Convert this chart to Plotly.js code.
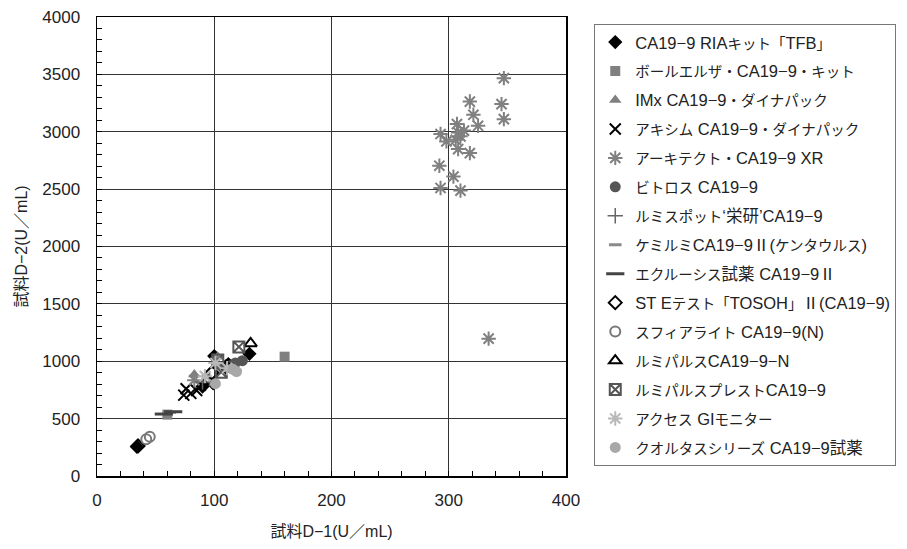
<!DOCTYPE html>
<html>
<head>
<meta charset="utf-8">
<script src="https://cdn.plot.ly/plotly-3.0.1.min.js"></script>
<style>html,body{margin:0;padding:0;background:#fff;}#chart{width:907px;height:549px;}</style>
</head>
<body>
<div id="chart"></div>
<script>
// Series names (legend labels)
const seriesNames = [
  "CA19−9 RIAキット「TFB」",
  "ボールエルザ・CA19−9・キット",
  "IMx CA19−9・ダイナパック",
  "アキシム CA19−9・ダイナパック",
  "アーキテクト・CA19−9 XR",
  "ビトロス CA19−9",
  "ルミスポット‘栄研’CA19−9",
  "ケミルミCA19−9Ⅱ(ケンタウルス)",
  "エクルーシス試薬 CA19−9Ⅱ",
  "ST Eテスト「TOSOH」Ⅱ(CA19−9)",
  "スフィアライト CA19−9(N)",
  "ルミパルスCA19−9−N",
  "ルミパルスプレストCA19−9",
  "アクセス GIモニター",
  "クオルタスシリーズ CA19−9試薬"
];

// D-1 values (x) per series
const d1_ria = [34, 100, 112, 130, 90];
const d1_ballelsa = [60, 160];
const d1_imx = [83, 103];
const d1_axsym = [76, 80, 74, 88, 95, 85];
const d1_architect = [347, 345, 347, 318, 321, 325, 307, 293, 298, 308, 310, 313, 306, 308, 318, 292, 304, 293, 310, 334, 83];
const d1_vitros = [124, 118, 114];
const d1_lumispot = [90, 96];
const d1_chemilumi = [62, 118];
const d1_ecl = [65, 57, 105];
const d1_st = [35, 98, 110];
const d1_sphere = [42, 45];
const d1_lumipulseN = [131];
const d1_presto = [121, 103, 106];
const d1_access = [101, 111, 92];
const d1_quoltas = [101, 119, 116];

// D-2 values (y) per series
const d2_ria = [255, 1045, 975, 1065, 780];
const d2_ballelsa = [535, 1040];
const d2_imx = [885, 1040];
const d2_axsym = [760, 720, 705, 790, 800, 745];
const d2_architect = [3467, 3241, 3110, 3263, 3148, 3052, 3067, 2980, 2916, 2994, 2960, 3010, 2930, 2849, 2814, 2704, 2609, 2510, 2487, 1197, 835];
const d2_vitros = [1005, 985, 960];
const d2_lumispot = [820, 850];
const d2_chemilumi = [555, 920];
const d2_ecl = [560, 540, 950];
const d2_st = [262, 900, 950];
const d2_sphere = [320, 342];
const d2_lumipulseN = [1155];
const d2_presto = [1125, 1010, 905];
const d2_access = [985, 940, 870];
const d2_quoltas = [805, 910, 930];

const xs = [d1_ria, d1_ballelsa, d1_imx, d1_axsym, d1_architect, d1_vitros, d1_lumispot, d1_chemilumi, d1_ecl, d1_st, d1_sphere, d1_lumipulseN, d1_presto, d1_access, d1_quoltas];
const ys = [d2_ria, d2_ballelsa, d2_imx, d2_axsym, d2_architect, d2_vitros, d2_lumispot, d2_chemilumi, d2_ecl, d2_st, d2_sphere, d2_lumipulseN, d2_presto, d2_access, d2_quoltas];

const styles = [
  {symbol: "diamond", color: "#000000", size: 11},
  {symbol: "square", color: "#808080", size: 10},
  {symbol: "triangle-up", color: "#808080", size: 11},
  {symbol: "x-thin-open", color: "#000000", size: 11, lw: 2},
  {symbol: "asterisk-open", color: "#808080", size: 12, lw: 2},
  {symbol: "circle", color: "#555555", size: 11},
  {symbol: "cross-thin-open", color: "#666666", size: 11, lw: 1.5},
  {symbol: "line-ew-open", color: "#8a8a8a", size: 9, lw: 3},
  {symbol: "line-ew-open", color: "#444444", size: 13, lw: 3},
  {symbol: "diamond-open", color: "#000000", size: 10, lw: 2},
  {symbol: "circle-open", color: "#777777", size: 10, lw: 2},
  {symbol: "triangle-up-open", color: "#000000", size: 11, lw: 2},
  {symbol: "square-x-open", color: "#555555", size: 11, lw: 2},
  {symbol: "asterisk-open", color: "#b8b8b8", size: 12, lw: 2},
  {symbol: "circle", color: "#a8a8a8", size: 11}
];

const FONT = "Liberation Sans, Arial, Noto Sans CJK JP, sans-serif";

// condensed-looking katakana runs
function fmt(s) {
  return s.replace(/[\u30A0-\u30FF\u300C\u300D]+/g, m => '<span style="font-size:14.5px">' + m + '</span>');
}

const traces = seriesNames.map((name, i) => ({
  type: "scatter",
  mode: "markers",
  name: fmt(name),
  x: xs[i],
  y: ys[i],
  legendgroup: "g" + i,
  marker: {
    symbol: styles[i].symbol,
    color: styles[i].color,
    size: styles[i].size,
    line: {color: styles[i].color, width: styles[i].lw || 0}
  }
}));

const layout = {
  width: 907,
  height: 549,
  margin: {l: 97, r: 340, t: 17, b: 73},
  paper_bgcolor: "#ffffff",
  plot_bgcolor: "#ffffff",
  font: {family: FONT, color: "#222", size: 16},
  showlegend: true,
  legend: {
    x: 1.058, y: 0.985, xanchor: "left", yanchor: "top",
    bordercolor: "#777", borderwidth: 1,
    font: {family: FONT, size: 16.5, color: "#222"},
    traceorder: "grouped",
    tracegroupgap: 4.5,
    itemwidth: 30
  },
  xaxis: {
    range: [0, 400],
    dtick: 100,
    tick0: 0,
    showgrid: true,
    gridcolor: "#333",
    gridwidth: 1,
    zeroline: false,
    showline: true,
    linecolor: "#000",
    linewidth: 1.5,
    mirror: true,
    ticks: "inside",
    ticklen: 5,
    tickcolor: "#000",
    ticklabelstandoff: 8,
    tickfont: {family: FONT, size: 17, color: "#222"},
    minor: {dtick: 20, ticks: "inside", ticklen: 5, tickcolor: "#000", showgrid: false},
    title: {text: "試料D−1(U／mL)", font: {family: FONT, size: 16, color: "#222"}, standoff: 17},
    fixedrange: true
  },
  yaxis: {
    range: [0, 4000],
    dtick: 500,
    tick0: 0,
    showgrid: true,
    gridcolor: "#333",
    gridwidth: 1,
    zeroline: false,
    showline: true,
    linecolor: "#000",
    linewidth: 1.5,
    mirror: true,
    ticks: "inside",
    ticklen: 5,
    tickcolor: "#000",
    ticklabelstandoff: 12,
    tickfont: {family: FONT, size: 17, color: "#222"},
    minor: {dtick: 100, ticks: "inside", ticklen: 5, tickcolor: "#000", showgrid: false},
    title: {text: "試料D−2(U／mL)", font: {family: FONT, size: 16, color: "#222"}, standoff: 10},
    fixedrange: true
  }
};

Plotly.newPlot("chart", traces, layout, {displayModeBar: false, staticPlot: true});
</script>
</body>
</html>
